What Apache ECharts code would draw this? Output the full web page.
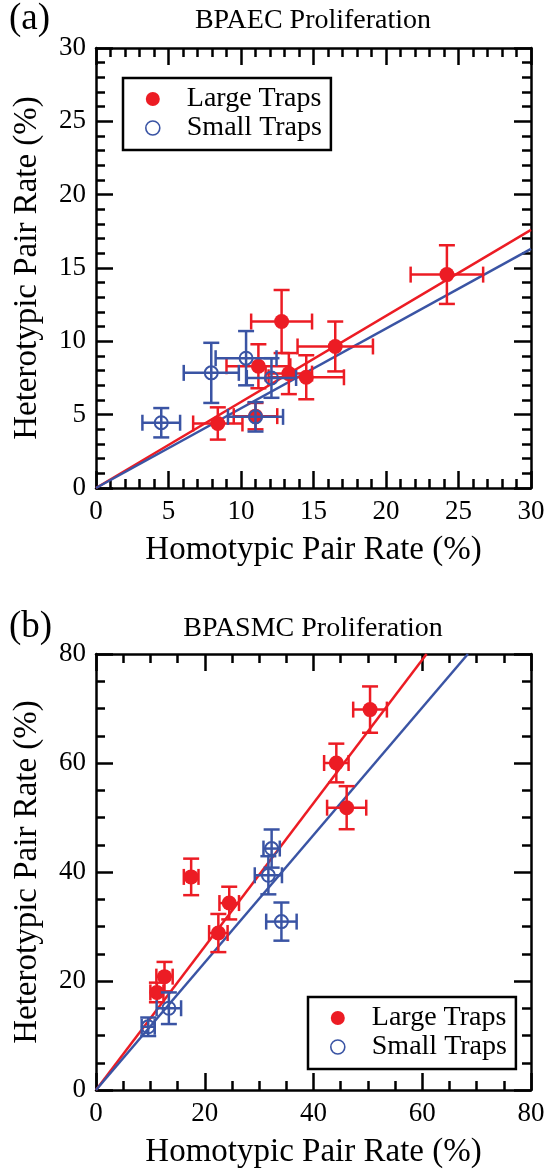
<!DOCTYPE html>
<html>
<head>
<meta charset="utf-8">
<script src="https://cdn.jsdelivr.net/npm/echarts@6/dist/echarts.min.js"></script>
<style>
html,body{margin:0;padding:0;background:#fff;}
#chart{width:549px;height:1170px;}
</style>
</head>
<body>
<div id="chart"></div>
<script>
// ---------- Data ----------
// Panel (a): BPAEC Proliferation
var largeA_x    = [24.2, 12.8, 16.5, 11.2, 13.3, 14.5, 8.4, 11.0];
var largeA_y    = [14.55, 11.35, 9.65, 8.3, 7.8, 7.55, 4.4, 4.9];
var largeA_xerr = [2.5, 2.1, 2.6, 2.2, 1.6, 2.6, 1.7, 1.5];
var largeA_yerr = [2.0, 2.15, 1.7, 1.5, 1.4, 1.5, 1.1, 0.9];

var smallA_x    = [4.5, 7.95, 10.35, 12.1, 11.0];
var smallA_y    = [4.45, 7.85, 8.85, 7.5, 4.85];
var smallA_xerr = [1.3, 1.9, 2.1, 1.7, 1.9];
var smallA_yerr = [1.0, 2.05, 1.85, 1.35, 1.0];

var fitA_large = [[0, 0], [30, 17.6]];
var fitA_small = [[0, 0], [30, 16.3]];

// Panel (b): BPASMC Proliferation
var largeB_x    = [50.4, 44.2, 46.1, 17.5, 24.5, 22.5, 12.6, 11.2];
var largeB_y    = [69.8, 60.0, 51.8, 39.1, 34.3, 28.8, 20.8, 17.9];
var largeB_xerr = [3.1, 2.25, 3.6, 1.35, 1.8, 1.7, 1.5, 1.2];
var largeB_yerr = [4.25, 3.55, 3.95, 3.35, 3.0, 3.5, 2.7, 1.8];

var smallB_x    = [32.3, 31.7, 34.1, 13.4, 9.6];
var smallB_y    = [44.3, 39.4, 30.9, 15.0, 11.6];
var smallB_xerr = [1.5, 2.5, 2.8, 2.25, 1.2];
var smallB_yerr = [3.5, 3.5, 3.5, 2.9, 1.7];

var fitB_large = [[0, 0], [60.8, 80]];
var fitB_small = [[0, 0], [68.4, 80]];

var ticksA = {min: 0, max: 30, interval: 5, minor: 5};
var ticksB = {min: 0, max: 80, interval: 20, minor: 4};

var titleA = 'BPAEC Proliferation';
var titleB = 'BPASMC Proliferation';
var xName = 'Homotypic Pair Rate (%)';
var yName = 'Heterotypic Pair Rate (%)';
var nameLarge = 'Large Traps';
var nameSmall = 'Small Traps';

// ---------- Styles ----------
var RED = '#EC1C24';
var BLUE = '#3A54A4';
var FONT = '"Liberation Serif", "Times New Roman", serif';

function pts(x, y) { return x.map(function (v, i) { return [v, y[i]]; }); }
function errs(x, y, xe, ye) { return x.map(function (v, i) { return [v, y[i], xe[i], ye[i]]; }); }

function errRender(color) {
  return function (params, api) {
    var x = api.value(0), y = api.value(1), xe = api.value(2), ye = api.value(3);
    var l = api.coord([x - xe, y]), r = api.coord([x + xe, y]);
    var t = api.coord([x, y + ye]), b = api.coord([x, y - ye]);
    var h = 8;
    var st = {stroke: color, lineWidth: 2.5, fill: null};
    function ln(x1, y1, x2, y2) { return {type: 'line', shape: {x1: x1, y1: y1, x2: x2, y2: y2}, style: st}; }
    return {type: 'group', children: [
      ln(l[0], l[1], r[0], r[1]),
      ln(t[0], t[1], b[0], b[1]),
      ln(l[0], l[1] - h, l[0], l[1] + h),
      ln(r[0], r[1] - h, r[0], r[1] + h),
      ln(t[0] - h, t[1], t[0] + h, t[1]),
      ln(b[0] - h, b[1], b[0] + h, b[1])
    ]};
  };
}

function makeAxis(t, pos, grid, showLabel, name, gap) {
  return {
    type: 'value', gridIndex: grid, position: pos,
    min: t.min, max: t.max, interval: t.interval,
    name: name || '', nameLocation: 'middle', nameGap: gap || 0,
    nameTextStyle: {fontFamily: FONT, fontSize: 33, color: '#000'},
    axisLine: {show: true, onZero: false, lineStyle: {color: '#000', width: 2.5}},
    axisTick: {show: true, inside: true, length: 17, lineStyle: {color: '#000', width: 2.5}},
    minorTick: {show: true, splitNumber: t.minor, length: 9, lineStyle: {color: '#000', width: 2.5}},
    splitLine: {show: false},
    axisLabel: {show: showLabel, fontFamily: FONT, fontSize: 27, color: '#000', margin: 10,
      showMinLabel: true, showMaxLabel: true}
  };
}

function panelSeries(xi, yi, lx, ly, lxe, lye, sx, sy, sxe, sye, fitL, fitS) {
  return [
    {type: 'line', name: nameLarge + ' fit', xAxisIndex: xi, yAxisIndex: yi, data: fitL,
      showSymbol: false, symbol: 'none', lineStyle: {color: RED, width: 2.5}, z: 2, silent: true},
    {type: 'line', name: nameSmall + ' fit', xAxisIndex: xi, yAxisIndex: yi, data: fitS,
      showSymbol: false, symbol: 'none', lineStyle: {color: BLUE, width: 2.5}, z: 2, silent: true},
    {type: 'custom', name: nameLarge, xAxisIndex: xi, yAxisIndex: yi, data: errs(lx, ly, lxe, lye),
      renderItem: errRender(RED), encode: {x: 0, y: 1}, z: 3},
    {type: 'scatter', name: nameLarge, xAxisIndex: xi, yAxisIndex: yi, data: pts(lx, ly),
      symbol: 'circle', symbolSize: 15, itemStyle: {color: RED, opacity: 1}, z: 4},
    {type: 'custom', name: nameSmall, xAxisIndex: xi, yAxisIndex: yi, data: errs(sx, sy, sxe, sye),
      renderItem: errRender(BLUE), encode: {x: 0, y: 1}, z: 5},
    {type: 'scatter', name: nameSmall, xAxisIndex: xi, yAxisIndex: yi, data: pts(sx, sy),
      symbol: 'circle', symbolSize: 13,
      itemStyle: {color: 'rgba(255,255,255,0)', borderColor: BLUE, borderWidth: 2, opacity: 1}, z: 6}
  ];
}

function legendAt(left, top) {
  return {
    orient: 'vertical', left: left, top: top,
    itemWidth: 58, itemHeight: 14, itemGap: 1,
    padding: [7, 9, 8, 22],
    borderColor: '#000', borderWidth: 2.5, backgroundColor: '#fff',
    selectedMode: false,
    textStyle: {fontFamily: FONT, fontSize: 28, color: '#000'},
    data: [
      {name: nameLarge, icon: 'circle', itemStyle: {color: RED, borderWidth: 0}},
      {name: nameSmall, icon: 'circle', itemStyle: {color: '#fff', borderColor: BLUE, borderWidth: 1.6}}
    ]
  };
}

var chart = echarts.init(document.getElementById('chart'), null, {renderer: 'canvas'});
chart.setOption({
  backgroundColor: '#fff',
  animation: false,
  grid: [
    {left: 96, top: 48, width: 435, height: 440},
    {left: 96, top: 654, width: 435, height: 436}
  ],
  xAxis: [
    makeAxis(ticksA, 'bottom', 0, true, xName, 46),
    makeAxis(ticksA, 'top', 0, false),
    makeAxis(ticksB, 'bottom', 1, true, xName, 46),
    makeAxis(ticksB, 'top', 1, false)
  ],
  yAxis: [
    makeAxis(ticksA, 'left', 0, true, yName, 52),
    makeAxis(ticksA, 'right', 0, false),
    makeAxis(ticksB, 'left', 1, true, yName, 52),
    makeAxis(ticksB, 'right', 1, false)
  ],
  legend: [legendAt(123, 78), legendAt(308, 997)],
  graphic: [
    {type: 'text', left: 9, top: 1, style: {text: '(a)', font: '37px ' + FONT, fill: '#000'}},
    {type: 'text', x: 313, y: 21, style: {text: titleA, font: '28px ' + FONT, fill: '#000', textAlign: 'center', textVerticalAlign: 'middle'}},
    {type: 'text', left: 9, top: 609, style: {text: '(b)', font: '37px ' + FONT, fill: '#000'}},
    {type: 'text', x: 313, y: 629, style: {text: titleB, font: '28px ' + FONT, fill: '#000', textAlign: 'center', textVerticalAlign: 'middle'}}
  ],
  series: [].concat(
    panelSeries(0, 0, largeA_x, largeA_y, largeA_xerr, largeA_yerr, smallA_x, smallA_y, smallA_xerr, smallA_yerr, fitA_large, fitA_small),
    panelSeries(2, 2, largeB_x, largeB_y, largeB_xerr, largeB_yerr, smallB_x, smallB_y, smallB_xerr, smallB_yerr, fitB_large, fitB_small)
  )
});
</script>
</body>
</html>
